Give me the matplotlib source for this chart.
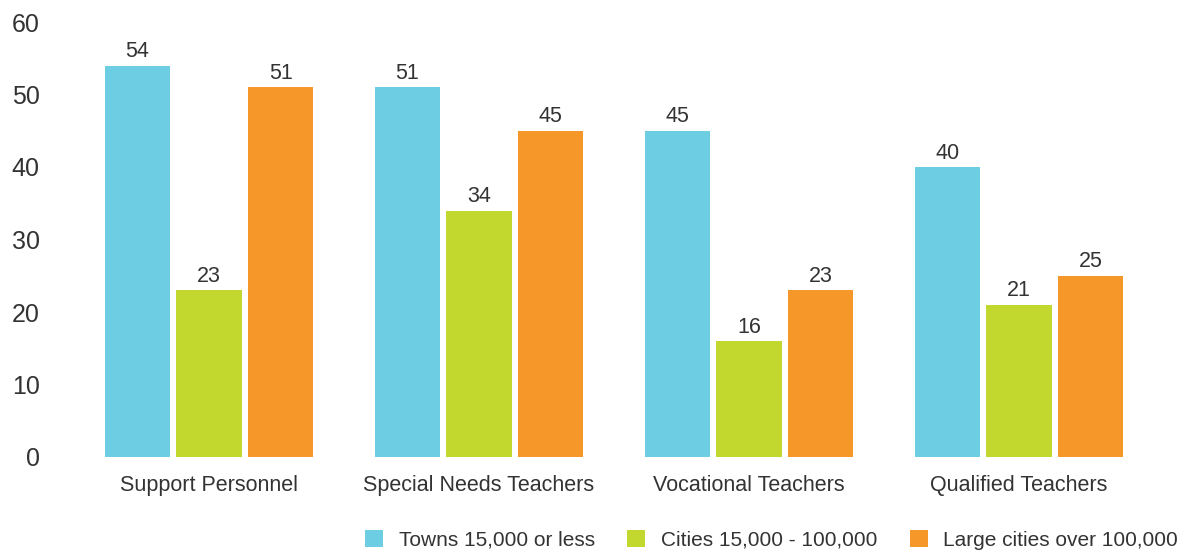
import matplotlib
matplotlib.use("Agg")
import matplotlib.pyplot as plt
import numpy as np

categories = ["Support Personnel", "Special Needs Teachers", "Vocational Teachers", "Qualified Teachers"]
series_names = ["Towns 15,000 or less", "Cities 15,000 - 100,000", "Large cities over 100,000"]
towns = [54, 51, 45, 40]
cities = [23, 34, 16, 21]
large_cities = [51, 45, 23, 25]
y_ticks = [0, 10, 20, 30, 40, 50, 60]

colors = ["#6DCDE2", "#C2D82F", "#F6972A"]
text_color = "#333333"

plt.rcParams["font.family"] = ["Liberation Sans", "DejaVu Sans"]

W, H = 1189, 552
fig = plt.figure(figsize=(W / 100, H / 100), dpi=100)
left_px, right_px, top_px, bottom_px = 55, 1175, 22, 457
ax = fig.add_axes([left_px / W, (H - bottom_px) / H,
                   (right_px - left_px) / W, (bottom_px - top_px) / H])

x = np.arange(len(categories))
bar_w = 0.242
step = 0.265
data = [towns, cities, large_cities]
for i, (vals, name, col) in enumerate(zip(data, series_names, colors)):
    pos = x + (i - 1) * step
    bars = ax.bar(pos, vals, width=bar_w, color=col, label=name, linewidth=0)
    for b, v in zip(bars, vals):
        ax.annotate(f"{v}", (b.get_x() + b.get_width() / 2, v),
                    xytext=(0, 2.5), textcoords="offset points",
                    ha="center", va="bottom", fontsize=15.5, color=text_color)

ax.set_xlim(-(209 - left_px) / 270, 3 + (right_px - 1019) / 270)
ax.set_ylim(0, 60)
ax.set_yticks(y_ticks)
ax.set_yticklabels([str(t) for t in y_ticks], fontsize=18, color=text_color)
ax.set_xticks(x)
ax.set_xticklabels(categories, fontsize=15.5, color=text_color)
ax.tick_params(axis="both", length=0)
ax.tick_params(axis="y", pad=11)
ax.tick_params(axis="x", pad=13)
for s in ax.spines.values():
    s.set_visible(False)

fig.legend(loc="center right", bbox_to_anchor=(1178 / W, 1 - 540 / H),
           ncol=3, frameon=False, fontsize=15, handlelength=0.87, handleheight=0.87,
           handletextpad=0.75, columnspacing=1.55, labelcolor=text_color,
           borderpad=0, borderaxespad=0)

fig.savefig("out.png", dpi=100, facecolor="white")
